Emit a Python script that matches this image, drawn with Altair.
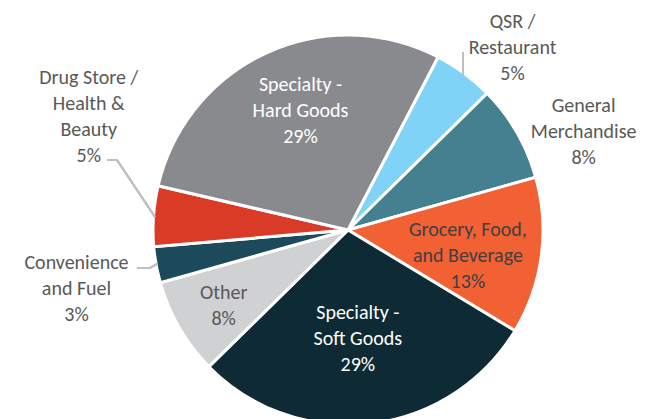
import math
import altair as alt
import pandas as pd

categories = [
    "QSR / Restaurant",
    "General Merchandise",
    "Grocery, Food, and Beverage",
    "Specialty - Soft Goods",
    "Other",
    "Convenience and Fuel",
    "Drug Store / Health & Beauty",
    "Specialty - Hard Goods",
]
values = [5, 8, 13, 29, 8, 3, 5, 29]
label_text = [
    "QSR /\nRestaurant",
    "General\nMerchandise",
    "Grocery, Food,\nand Beverage",
    "Specialty -\nSoft Goods",
    "Other",
    "Convenience\nand Fuel",
    "Drug Store /\nHealth &\nBeauty",
    "Specialty -\nHard Goods",
]
colors = ["#7FD3F7", "#44808F", "#F26134", "#0E2A35",
          "#D0D1D3", "#1C4A5B", "#DA3B26", "#898A8E"]

df = pd.DataFrame({
    "category": categories,
    "value": values,
    "order": list(range(len(categories))),
    "label": [f"{t}\n{v}%" for t, v in zip(label_text, values)],
})

CX, CY = 340, 222
START = math.radians(27.5)
theta_scale = alt.Scale(domain=[0, 100], range=[START, START + 2 * math.pi])
FONT = "Carlito, Lato, sans-serif"
LH = 26

base = alt.Chart(df).transform_window(
    cum="sum(value)", sort=[{"field": "order"}], frame=[None, 0]
).transform_calculate(mid="datum.cum - datum.value / 2")

pie = base.mark_arc(radius=195, stroke="white", strokeWidth=3).encode(
    theta=alt.Theta("value:Q", stack=True, scale=theta_scale),
    order=alt.Order("order:Q"),
    color=alt.Color("category:N", scale=alt.Scale(domain=categories, range=colors), legend=None),
    x=alt.value(CX),
    y=alt.value(CY),
)


def label(cat, r, dx, dy, color, nlines):
    return base.transform_filter(alt.datum.category == cat).mark_text(
        radius=r, dx=dx, dy=dy - (nlines - 1) * LH / 2, align="center", baseline="middle",
        lineBreak="\n", lineHeight=LH, font=FONT, fontSize=20, color=color,
    ).encode(
        theta=alt.Theta("mid:Q", stack=False, scale=theta_scale),
        text="label:N",
        x=alt.value(CX),
        y=alt.value(CY),
    )


labels = [
    label("Specialty - Hard Goods", 128, 6, -3, "white", 3),
    label("Specialty - Soft Goods", 110, -3, 0, "white", 3),
    label("Grocery, Food, and Beverage", 123, -2, 10, "#404040", 3),
    label("Other", 146, 2, 3, "#595959", 2),
    label("QSR / Restaurant", 248, 17, 17, "#595959", 3),
    label("General Merchandise", 255, 15, 30, "#595959", 3),
    label("Drug Store / Health & Beauty", 283, 23, -93, "#595959", 4),
    label("Convenience and Fuel", 278, 2, 9, "#595959", 3),
]


def seg(x1, y1, x2, y2):
    return alt.Chart(df).mark_rule(color="#BFBFBF", strokeWidth=1.5).encode(
        x=alt.value(x1), y=alt.value(y1), x2=alt.value(x2), y2=alt.value(y2)
    )


leaders = [
    seg(99, 152, 109, 152),
    seg(109, 152, 147, 209),
    seg(129, 260, 142, 260),
    seg(142, 260, 149, 256),
    seg(455, 44, 455, 68),
]

chart = alt.layer(pie, *leaders, *labels).properties(
    width=635, height=400, padding=0
).configure_view(stroke=None)

chart.save("out.html", embed_options={"renderer": "svg", "actions": False})
